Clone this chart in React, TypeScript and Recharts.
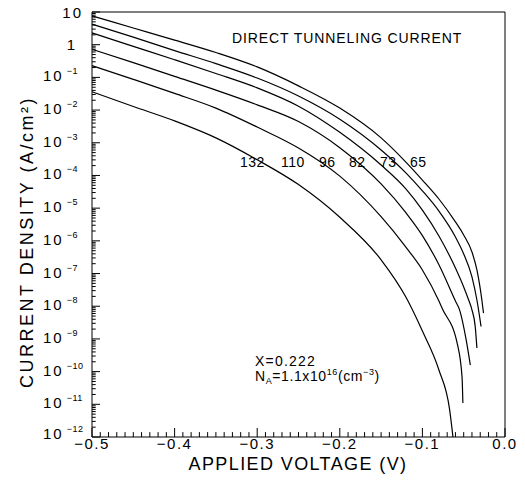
import React from 'react';
import { LineChart, Line, XAxis, YAxis, ReferenceLine, Customized } from 'recharts';

// applied voltage (V) and log10 of current density (A/cm^2), one pair per oxide thickness
const volts65 = [-0.5, -0.45, -0.4, -0.35, -0.3, -0.25, -0.2, -0.15, -0.12, -0.1, -0.08, -0.06, -0.05, -0.04, -0.034, -0.028, -0.026];
const logJ65 = [0.88, 0.51, 0.14, -0.24, -0.68, -1.26, -1.94, -2.85, -3.59, -4.14, -4.72, -5.42, -5.82, -6.34, -6.89, -7.81, -8.21];

const volts73 = [-0.5, -0.45, -0.4, -0.35, -0.3, -0.25, -0.2, -0.15, -0.12, -0.1, -0.08, -0.06, -0.05, -0.04, -0.034, -0.029];
const logJ73 = [0.63, 0.23, -0.18, -0.58, -1.02, -1.57, -2.28, -3.22, -3.92, -4.47, -5.09, -5.88, -6.4, -7.1, -7.81, -8.62];

const volts82 = [-0.5, -0.45, -0.4, -0.35, -0.3, -0.25, -0.2, -0.15, -0.12, -0.1, -0.08, -0.06, -0.05, -0.044, -0.04, -0.036, -0.034];
const logJ82 = [0.36, -0.05, -0.46, -0.88, -1.32, -1.88, -2.68, -3.68, -4.41, -5.06, -5.85, -6.83, -7.41, -7.81, -8.11, -8.63, -9.28];

const volts96 = [-0.5, -0.45, -0.4, -0.35, -0.3, -0.25, -0.2, -0.15, -0.12, -0.1, -0.08, -0.06, -0.055, -0.047, -0.042];
const logJ96 = [-0.14, -0.55, -0.97, -1.39, -1.84, -2.35, -3.15, -4.26, -5.14, -5.84, -6.73, -7.84, -8.11, -9.03, -9.8];

const volts110 = [-0.5, -0.45, -0.4, -0.35, -0.3, -0.25, -0.2, -0.15, -0.12, -0.1, -0.08, -0.076, -0.058, -0.052, -0.051];
const logJ110 = [-0.64, -1.06, -1.49, -1.94, -2.52, -3.16, -4.02, -5.26, -6.19, -6.89, -7.84, -8.07, -9.12, -10.16, -10.96];

const volts132 = [-0.5, -0.45, -0.4, -0.35, -0.3, -0.25, -0.2, -0.15, -0.12, -0.1, -0.08, -0.067, -0.063];
const logJ132 = [-1.44, -1.89, -2.33, -2.85, -3.52, -4.28, -5.28, -6.58, -7.72, -8.76, -9.95, -11.17, -12];

const thicknessLabels = ['132', '110', '96', '82', '73', '65'];

const xMajorTicks = [-0.5, -0.4, -0.3, -0.2, -0.1, 0];
const xTickLabels = ['\u22120.5', '\u22120.4', '\u22120.3', '\u22120.2', '\u22120.1', '0.0'];
const yDecades = [1, 0, -1, -2, -3, -4, -5, -6, -7, -8, -9, -10, -11, -12];

const FONT = '"Liberation Sans", Arial, sans-serif';

const toPoints = (volts: number[], logJ: number[]) => volts.map((v, i) => ({ v, j: logJ[i] }));

const series = [
  toPoints(volts65, logJ65),
  toPoints(volts73, logJ73),
  toPoints(volts82, logJ82),
  toPoints(volts96, logJ96),
  toPoints(volts110, logJ110),
  toPoints(volts132, logJ132),
];

// minor ticks: every 0.01 V, and 2..9 within every decade
const xMinorTicks: number[] = [];
for (let i = 1; i < 50; i++) {
  if (i % 10 !== 0) xMinorTicks.push(Math.round((-0.5 + i * 0.01) * 100) / 100);
}
const yMinorTicks: number[] = [];
for (let e = -12; e < 1; e++) {
  for (let k = 2; k <= 9; k++) yMinorTicks.push(e + Math.log10(k));
}

const XLabel = (props: any) => {
  const { x, y, payload } = props;
  const idx = xMajorTicks.findIndex((t) => Math.abs(t - payload.value) < 1e-6);
  return (
    <text x={x} y={Number(y) + 2} textAnchor="middle" fontSize={15} letterSpacing={1.5} fontFamily={FONT} fill="#000">
      {idx >= 0 ? xTickLabels[idx] : ''}
    </text>
  );
};

const YLabel = (props: any) => {
  const { x, y, payload } = props;
  const e = Math.round(payload.value);
  const ax = Number(x);
  const ay = Number(y);
  if (e === 1) {
    return <text x={ax - 7} y={ay + 6} textAnchor="end" fontSize={15} letterSpacing={2} fontFamily={FONT} fill="#000">10</text>;
  }
  if (e === 0) {
    return <text x={ax - 15} y={ay + 5} textAnchor="end" fontSize={15} fontFamily={FONT} fill="#000">1</text>;
  }
  return (
    <text x={ax - 47} y={ay + (e === -12 ? 2 : 4)} textAnchor="start" fontSize={15} letterSpacing={2} fontFamily={FONT} fill="#000">
      10
      <tspan dx={3} dy={-7} fontSize={9} letterSpacing={0.5}>{'\u2212' + -e}</tspan>
    </text>
  );
};

const labelX = [240, 281, 319, 349, 380, 410];

const Annotations = () => (
  <g fontFamily={FONT} fill="#000">
    <text x={232} y={43} fontSize={14} letterSpacing={0.9}>DIRECT TUNNELING CURRENT</text>
    {thicknessLabels.map((t, i) => (
      <text key={t} x={labelX[i]} y={167} fontSize={14} letterSpacing={0.5}>{t}</text>
    ))}
    <text x={255} y={366} fontSize={14} letterSpacing={1.2}>X=0.222</text>
    <text x={255} y={381} fontSize={14} letterSpacing={0.6}>
      N<tspan dy={3} fontSize={9}>A</tspan>
      <tspan dy={-3}>=1.1x10</tspan>
      <tspan dy={-6} fontSize={9}>16</tspan>
      <tspan dy={6}>(cm</tspan>
      <tspan dy={-6} fontSize={9}>{'\u22123'}</tspan>
      <tspan dy={6}>)</tspan>
    </text>
    <text x={298} y={470} fontSize={18} letterSpacing={1.4} textAnchor="middle">APPLIED VOLTAGE (V)</text>
    <text
      x={33}
      y={242}
      fontSize={18}
      letterSpacing={2.5}
      textAnchor="middle"
      transform="rotate(-90, 33, 242)"
    >
      CURRENT DENSITY (A/cm²)
    </text>
  </g>
);

export default function App() {
  return (
    <div style={{ width: 525, height: 484, margin: -8 }}>
      <LineChart width={525} height={484} margin={{ top: 12, right: 20, bottom: 0, left: 0 }}>
        <XAxis
          dataKey="v"
          type="number"
          domain={[-0.5, 0]}
          ticks={xMajorTicks}
          interval={0}
          height={47}
          tickSize={-9}
          tickMargin={19}
          tickLine={{ stroke: '#000' }}
          axisLine={{ stroke: '#000' }}
          tick={XLabel}
        />
        <YAxis
          type="number"
          domain={[-12, 1]}
          ticks={yDecades}
          interval={0}
          width={92}
          tickSize={-8}
          tickMargin={10}
          tickLine={{ stroke: '#000' }}
          axisLine={{ stroke: '#000' }}
          tick={YLabel}
        />
        {/* frame */}
        <ReferenceLine y={1} stroke="#000" />
        <ReferenceLine x={0} stroke="#000" />
        {/* short inward minor ticks */}
        {xMinorTicks.map((v) => (
          <ReferenceLine key={'xm' + v} segment={[{ x: v, y: -12 }, { x: v, y: -11.85 }]} stroke="#000" />
        ))}
        {yMinorTicks.map((m) => (
          <ReferenceLine key={'ym' + m} segment={[{ x: -0.5, y: m }, { x: -0.4955, y: m }]} stroke="#000" />
        ))}
        {series.map((data, i) => (
          <Line
            key={i}
            data={data}
            dataKey="j"
            type="monotone"
            stroke="#000"
            strokeWidth={1.2}
            dot={false}
            isAnimationActive={false}
          />
        ))}
        <Customized component={Annotations} />
      </LineChart>
    </div>
  );
}
